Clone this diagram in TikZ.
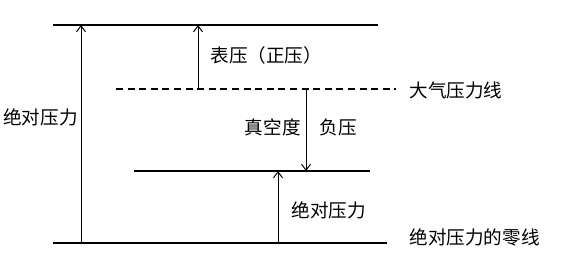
\documentclass[tikz,border=0pt]{standalone}
\usepackage{fontspec}
\setmainfont{Noto Sans CJK SC}
\usetikzlibrary{arrows.meta, positioning}

\begin{document}
\begin{tikzpicture}[x=0.5pt, y=-0.5pt, font=\fontsize{9.3}{11}\selectfont,
  lvl/.style={line width=0.9pt},
  atm/.style={line width=0.7pt, dash pattern=on 3.5pt off 2.3pt},
  a/.style={-{Straight Barb[length=3pt, width=4.5pt]}, line width=0.5pt},
  lbl/.style={inner sep=0pt}]
  \useasboundingbox (0,0) rectangle (568,262);
  % pressure levels
  \coordinate (topL) at (53,25);   \coordinate (topR) at (378,25);
  \coordinate (atmL) at (116,89);  \coordinate (atmR) at (396,89);
  \coordinate (midL) at (134,171); \coordinate (midR) at (370,171);
  \coordinate (botL) at (53,243);  \coordinate (botR) at (387,243);
  \draw[lvl] (topL) -- (topR);
  \draw[atm] (atmL) -- (atmR);
  \draw[lvl] (midL) -- (midR);
  \draw[lvl] (botL) -- (botR);
  % arrow ends
  \coordinate (absB) at (81,243);  \coordinate (absT) at (81,25);
  \coordinate (gagB) at (198,89);  \coordinate (gagT) at (198,25);
  \coordinate (vacT) at (306,89);  \coordinate (vacB) at (306,171);
  \coordinate (lowB) at (278,243); \coordinate (lowT) at (278,171);
  \draw[a] (absB) -- (absT);
  \draw[a] (gagB) -- (gagT);
  \draw[a] (vacT) -- (vacB);
  \draw[a] (lowB) -- (lowT);
  % labels
  \node[lbl, anchor=east] (absLbl) at (78,117) {绝对压力};
  \node[lbl, anchor=west] (gagLbl) at (210,55) {表压（正压）};
  \node[lbl, anchor=west] (atmLbl) at (409,90) {大气压力线};
  \node[lbl, anchor=east] (vacLbl) at (301,127) {真空度};
  \node[lbl, anchor=west] (negLbl) at (319,127) {负压};
  \node[lbl, anchor=west] (lowLbl) at (291,210) {绝对压力};
  \node[lbl, anchor=west] (zeroLbl) at (409,237) {绝对压力的零线};
\end{tikzpicture}
\end{document}
